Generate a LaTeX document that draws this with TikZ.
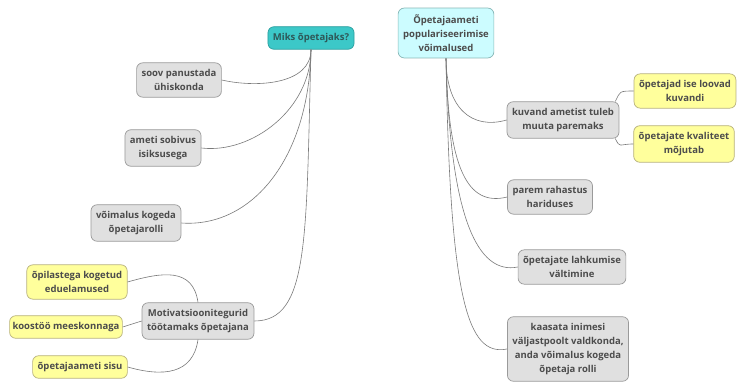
\documentclass[tikz,border=0pt]{standalone}
\usepackage{fontspec}
\setmainfont{Open Sans}
\definecolor{txt}{HTML}{4C4C4C}
\definecolor{conn}{HTML}{7A7A7A}
\definecolor{grfill}{HTML}{E0E0E0}
\definecolor{grline}{HTML}{9A9A9A}
\definecolor{ylfill}{HTML}{FFFF9C}
\definecolor{ylline}{HTML}{B8B27E}
\definecolor{tlfill}{HTML}{3CC8C8}
\definecolor{tlline}{HTML}{2A9E9E}
\definecolor{tltxt}{HTML}{2E5858}
\definecolor{cyfill}{HTML}{CCFCFF}
\definecolor{cyline}{HTML}{88B8B8}
\begin{document}
\begin{tikzpicture}[x=1pt,y=1pt]
	\tikzstyle{base} = [draw, rounded corners=6pt, align=center, text=txt, line width=0.7pt,
		font=\fontsize{9.5}{14}\selectfont\bfseries, inner xsep=5pt, inner ysep=6.5pt]
	\tikzstyle{gr} = [base, draw=grline, fill=grfill]
	\tikzstyle{yl} = [base, draw=ylline, fill=ylfill]
	\tikzstyle{tl} = [base, draw=tlline, fill=tlfill, text=tltxt]
	\tikzstyle{cy} = [base, draw=cyline, fill=cyfill]
	\tikzstyle{con} = [draw=conn, line width=0.6pt]
	\useasboundingbox[fill=white] (0,0) rectangle (748,-390);
	% left branch
	\node[tl] (miks) at (311,-38) {Miks õpetajaks?};
	\node[gr] (soov) at (179,-80) {soov panustada\\ühiskonda};
	\node[gr] (ameti) at (163,-148) {ameti sobivus\\isiksusega};
	\node[gr] (voim) at (136,-223) {võimalus kogeda\\õpetajarolli};
	\node[gr] (moti) at (198,-321) {Motivatsioonitegurid\\töötamaks õpetajana};
	\node[yl] (opil) at (77,-282) {õpilastega kogetud\\eduelamused};
	\node[yl, inner xsep=3pt] (koos) at (66,-327) {koostöö meeskonnaga};
	\node[yl] (sisu) at (80,-367) {õpetajaameti sisu};
	\draw[con] (miks.south) .. controls +(0,-35) and +(35,-8) .. (soov.east);
	\draw[con] (miks.south) .. controls +(0,-60) and +(50,-6) .. (ameti.east);
	\draw[con] (miks.south) .. controls +(-2,-110) and +(70,-5) .. (voim.east);
	\draw[con] (miks.south) .. controls +(-5,-190) and +(55,0) .. (moti.east);
	\draw[con] (moti.north) .. controls +(-5,35) and +(35,10) .. (opil.east);
	\draw[con] (moti.west) -- (koos.east);
	\draw[con] (moti.south) .. controls +(-5,-35) and +(35,-10) .. (sisu.east);
	% right branch
	\node[cy] (popu) at (446,-33) {Õpetajaameti\\populariseerimise\\võimalused};
	\node[gr] (kuv) at (563,-120) {kuvand ametist tuleb\\muuta paremaks};
	\node[yl] (ise) at (685,-91) {õpetajad ise loovad\\kuvandi};
	\node[yl] (kval) at (684,-144) {õpetajate kvaliteet\\mõjutab};
	\node[gr] (parem) at (550,-197) {parem rahastus\\hariduses};
	\node[gr] (lahk) at (572,-267) {õpetajate lahkumise\\vältimine};
	\node[gr] (kaas) at (568,-349) {kaasata inimesi\\väljastpoolt valdkonda,\\anda võimalus kogeda\\õpetaja rolli};
	\draw[con] (popu.south) .. controls +(0,-50) and +(-35,-10) .. (kuv.west);
	\draw[con] (popu.south) .. controls +(2,-110) and +(-40,-10) .. (parem.west);
	\draw[con] (popu.south) .. controls +(4,-160) and +(-40,-8) .. (lahk.west);
	\draw[con] (popu.south) .. controls +(4,-240) and +(-40,-8) .. (kaas.west);
	\draw[con] ([xshift=-4pt]kuv.north east) .. controls +(5,10) and +(-15,0) .. (ise.west);
	\draw[con] ([xshift=-4pt]kuv.south east) .. controls +(5,-10) and +(-15,0) .. (kval.west);
\end{tikzpicture}
\end{document}
